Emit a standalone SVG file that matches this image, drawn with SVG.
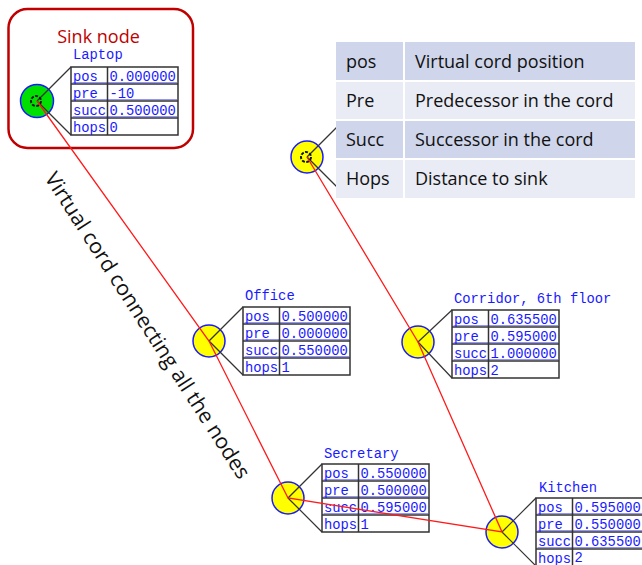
<svg xmlns="http://www.w3.org/2000/svg" width="642" height="565" viewBox="0 0 642 565">
  <style>
    .title { font-family: "Liberation Mono", "DejaVu Sans Mono", monospace; font-size: 13.8px; fill: #1a1aff; }
    .cell { font-family: "Liberation Mono", "DejaVu Sans Mono", monospace; font-size: 13.8px; fill: #1a1aff; }
    .grid { fill: #ffffff; stroke: #333333; stroke-width: 1.5; }
    .sep { stroke: #333333; stroke-width: 1.5; }
    .ul { stroke: #6a6aff; stroke-width: 0.8; }
    .spoke { stroke: #333333; stroke-width: 1.2; fill: none; }
    .mote { fill: #ffff00; stroke: #1a1aff; stroke-width: 1.5; }
    .sink { fill: #00e000; stroke: #1a1aff; stroke-width: 1.5; }
    .gear { fill: none; stroke: #111111; stroke-width: 2; stroke-dasharray: 3 1.4; }
    .cord { stroke: #ff1a1a; stroke-width: 1.3; fill: none; }
    .legend { font-family: "Open Sans", "Noto Sans", sans-serif; font-size: 18px; fill: #111111; }
    .note { font-family: "Open Sans", "Noto Sans", sans-serif; font-size: 21px; fill: #111111; }
  </style>
  <defs>
    <!-- 4-row attribute table, 107 x 68, first column 36.5 wide -->
    <g id="tbl">
      <rect class="grid" x="0" y="0" width="107" height="68"/>
      <line class="ul" x1="1.5" y1="15.6" x2="106" y2="15.6"/>
      <line class="ul" x1="1.5" y1="32.6" x2="106" y2="32.6"/>
      <line class="ul" x1="1.5" y1="49.6" x2="106" y2="49.6"/>
      <line class="sep" x1="0" y1="17" x2="107" y2="17"/>
      <line class="sep" x1="0" y1="34" x2="107" y2="34"/>
      <line class="sep" x1="0" y1="51" x2="107" y2="51"/>
      <line class="sep" x1="36.5" y1="0" x2="36.5" y2="68"/>
      <text class="cell" x="2" y="14">pos</text>
      <text class="cell" x="2" y="31">pre</text>
      <text class="cell" x="2" y="48">succ</text>
      <text class="cell" x="2" y="65">hops</text>
    </g>
  </defs>

  <!-- sink highlight -->
  <g id="sink-frame">
    <rect x="8.5" y="9" width="184.5" height="139" rx="19" fill="none" stroke="#c00000" stroke-width="2.5"/>
    <text x="98.5" y="43" text-anchor="middle" font-family="'Open Sans', 'Noto Sans', sans-serif" font-size="18" fill="#c00000">Sink node</text>
  </g>

  <!-- unnamed node (its table sits beneath the legend) -->
  <g id="node-top">
    <circle class="mote" cx="307" cy="157" r="16"/>
    <line class="spoke" x1="307" y1="157" x2="341" y2="123"/>
    <line class="spoke" x1="307" y1="157" x2="341" y2="191"/>
    <circle class="gear" cx="306" cy="157" r="5"/>
  </g>

  <!-- legend -->
  <g id="legend">
    <rect x="336" y="42" width="299" height="39" fill="#cfd5ea"/>
    <rect x="336" y="81" width="299" height="39" fill="#e9ebf5"/>
    <rect x="336" y="120" width="299" height="39" fill="#cfd5ea"/>
    <rect x="336" y="159" width="299" height="39" fill="#e9ebf5"/>
    <g stroke="#ffffff" stroke-width="2">
      <line x1="336" y1="81" x2="635" y2="81"/>
      <line x1="336" y1="120" x2="635" y2="120"/>
      <line x1="336" y1="159" x2="635" y2="159"/>
      <line x1="404" y1="42" x2="404" y2="198"/>
    </g>
    <text class="legend" x="346" y="68">pos</text>
    <text class="legend" x="415" y="68">Virtual cord  position</text>
    <text class="legend" x="346" y="107">Pre</text>
    <text class="legend" x="415" y="107">Predecessor in the cord</text>
    <text class="legend" x="346" y="146">Succ</text>
    <text class="legend" x="415" y="146">Successor in the cord</text>
    <text class="legend" x="346" y="185">Hops</text>
    <text class="legend" x="415" y="185">Distance to sink</text>
  </g>

  <!-- Laptop (sink) -->
  <g id="node-laptop">
    <circle class="sink" cx="37" cy="101" r="16.5"/>
    <text class="title" x="73" y="59">Laptop</text>
    <use href="#tbl" x="71" y="67"/>
    <text class="cell" x="109.5" y="81">0.000000</text>
    <text class="cell" x="109.5" y="98">-10</text>
    <text class="cell" x="109.5" y="115">0.500000</text>
    <text class="cell" x="109.5" y="132">0</text>
    <line class="spoke" x1="37" y1="101" x2="71" y2="67"/>
    <line class="spoke" x1="37" y1="101" x2="71" y2="135"/>
    <circle class="gear" cx="36" cy="101" r="5"/>
  </g>

  <!-- Office -->
  <g id="node-office">
    <circle class="mote" cx="209" cy="341" r="16"/>
    <text class="title" x="245" y="300">Office</text>
    <use href="#tbl" x="243" y="307"/>
    <text class="cell" x="281.5" y="321">0.500000</text>
    <text class="cell" x="281.5" y="338">0.000000</text>
    <text class="cell" x="281.5" y="355">0.550000</text>
    <text class="cell" x="281.5" y="372">1</text>
    <line class="spoke" x1="209" y1="341" x2="243" y2="307"/>
    <line class="spoke" x1="209" y1="341" x2="243" y2="375"/>
  </g>

  <!-- Corridor -->
  <g id="node-corridor">
    <circle class="mote" cx="418" cy="342" r="16"/>
    <text class="title" x="454" y="303">Corridor, 6th floor</text>
    <use href="#tbl" x="452" y="310"/>
    <text class="cell" x="490.5" y="324">0.635500</text>
    <text class="cell" x="490.5" y="341">0.595000</text>
    <text class="cell" x="490.5" y="358">1.000000</text>
    <text class="cell" x="490.5" y="375">2</text>
    <line class="spoke" x1="418" y1="342" x2="452" y2="310"/>
    <line class="spoke" x1="418" y1="342" x2="452" y2="378"/>
  </g>

  <!-- Secretary -->
  <g id="node-secretary">
    <circle class="mote" cx="288" cy="498" r="16"/>
    <text class="title" x="324" y="458">Secretary</text>
    <use href="#tbl" x="322" y="464"/>
    <text class="cell" x="360.5" y="478">0.550000</text>
    <text class="cell" x="360.5" y="495">0.500000</text>
    <text class="cell" x="360.5" y="512">0.595000</text>
    <text class="cell" x="360.5" y="529">1</text>
    <line class="spoke" x1="288" y1="498" x2="322" y2="464"/>
    <line class="spoke" x1="288" y1="498" x2="322" y2="532"/>
  </g>

  <!-- Kitchen -->
  <g id="node-kitchen">
    <circle class="mote" cx="502" cy="532" r="16"/>
    <text class="title" x="539" y="492">Kitchen</text>
    <use href="#tbl" x="536" y="498"/>
    <text class="cell" x="574.5" y="512">0.595000</text>
    <text class="cell" x="574.5" y="529">0.550000</text>
    <text class="cell" x="574.5" y="546">0.635500</text>
    <text class="cell" x="574.5" y="562">2</text>
    <line class="spoke" x1="502" y1="532" x2="536" y2="498"/>
    <line class="spoke" x1="502" y1="532" x2="536" y2="566"/>
  </g>

  <!-- virtual cord, in position order -->
  <g id="connectors">
    <polyline class="cord" points="37,101 209,341 288,498 502,532 418,342 307,157"/>
  </g>

  <text class="note" transform="translate(44,178) rotate(57.2)" textLength="360" lengthAdjust="spacingAndGlyphs">Virtual cord connecting all the nodes</text>
</svg>
